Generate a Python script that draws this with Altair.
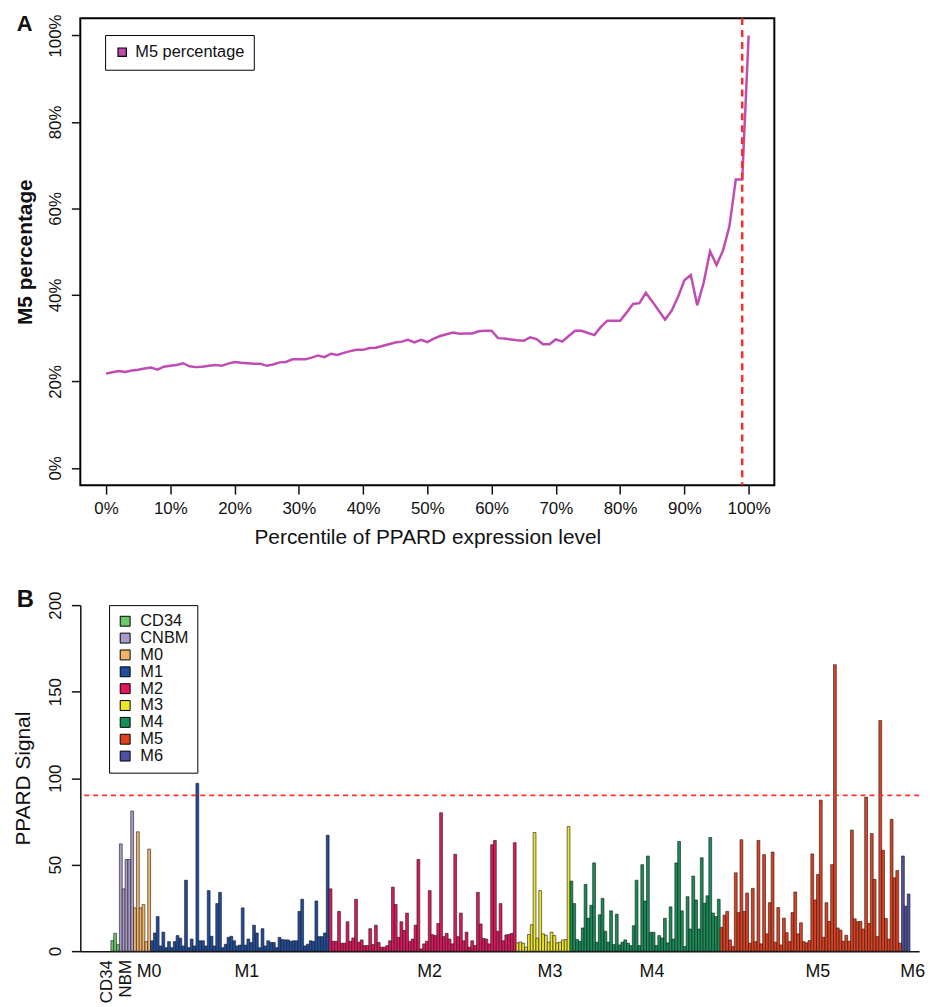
import altair as alt
import pandas as pd

FONT = "Liberation Sans"

# ---------------- Panel A data ----------------
percentiles = list(range(0, 101))
m5_percentage = [
    21.8, 22.1, 22.4, 22.2, 22.5, 22.7, 23.0, 23.2, 22.7, 23.4,
    23.6, 23.8, 24.2, 23.5, 23.3, 23.4, 23.6, 23.8, 23.6, 24.1,
    24.5, 24.3, 24.2, 24.1, 24.1, 23.6, 23.9, 24.4, 24.5, 25.1,
    25.1, 25.1, 25.5, 26.0, 25.6, 26.4, 26.1, 26.6, 27.0, 27.3,
    27.3, 27.7, 27.8, 28.2, 28.6, 29.0, 29.2, 29.6, 29.0, 29.6,
    29.1, 29.9, 30.5, 30.9, 31.3, 31.0, 31.1, 31.1, 31.6, 31.7,
    31.7, 30.0, 29.9, 29.7, 29.5, 29.4, 30.2, 29.8, 28.6, 28.6,
    29.7, 29.2, 30.5, 31.7, 31.7, 31.2, 30.7, 32.6, 34.0, 34.0,
    34.0, 35.9, 37.9, 38.1, 40.5, 38.5, 36.4, 34.3, 36.3, 39.5,
    43.4, 44.6, 37.6, 42.8, 50.1, 46.9, 50.2, 55.8, 66.7, 66.7,
    100.0,
]
cutoff_percentile = [99]
series_name = "M5 percentage"
series_color = "#C04CB2"

# ---------------- Panel B data ----------------
groups = ["CD34", "CNBM", "M0", "M1", "M2", "M3", "M4", "M5", "M6"]
group_axis_labels = ["CD34", "NBM", "M0", "M1", "M2", "M3", "M4", "M5", "M6"]
group_colors = ["#6CC66C", "#A99AC9", "#F2B468", "#1F4C9C", "#E0175E",
                "#EDE52C", "#168E58", "#E0401F", "#5050A2"]

cd34 = [6.1, 10.3, 3.8]
cnbm = [62, 36, 53, 53, 81]
m0 = [25, 69, 25, 27, 5.5, 59]
m1 = [6, 10.5, 20, 3, 11, 2, 5.5, 2, 5.5, 9,
      7.5, 3, 41, 2, 7, 3, 97, 6, 6, 3,
      35, 8.6, 3, 27.5, 34, 2, 4, 8, 8.6, 6,
      3, 3.5, 25, 3.5, 7, 5, 15, 10.5, 2, 13,
      3, 6, 5, 5, 2, 8, 6.7, 6.5, 6.5, 5.7,
      6, 6, 23, 30, 3, 4, 6, 5.7, 29, 8.4,
      8.4, 10.5, 67]
m2 = [36, 5.7, 5.7, 23, 4.6, 4.6, 17, 5.7, 7.6, 30,
      5.2, 6.5, 3.2, 3.2, 13, 3.8, 15, 5, 2.3, 2.3,
      3.2, 6, 37, 27, 8, 17, 12, 22, 5.7, 7,
      15, 53, 1.3, 4.2, 5.7, 35, 9.5, 9, 16, 80,
      8.4, 10.3, 7, 4.2, 56, 8.4, 22, 6, 11, 2.3,
      6, 3.2, 34, 15.7, 7.3, 7, 4.2, 61.5, 64, 11.5,
      27.5, 6, 9.4, 9.7, 10.3, 62.7]
m3 = [4.8, 5.3, 4.6, 2.3, 9.6, 15.3, 68.6, 7.5, 35, 10,
      9.2, 5.2, 11, 9, 4.8, 5.2, 6.5, 6.7, 72]
m4 = [40.5, 27.5, 6.7, 5.7, 13.4, 38.6, 19, 26.5, 51, 5.2,
      21, 30.5, 11.5, 5.2, 23.3, 3.8, 21.4, 3.6, 5.2, 6.5,
      4.6, 3.2, 14.7, 41, 3.2, 50, 29, 55, 10.9, 10.9,
      3.2, 9, 7.6, 19, 4.8, 25.6, 7, 51, 63.4, 23.3,
      2.7, 31.5, 12.8, 43.4, 29.6, 12.8, 54, 27.7, 32, 65.7,
      22, 20, 30]
m5 = [13.8, 20.8, 23, 6.5, 2.7, 45.3, 22.3, 64.4, 23, 33.6,
      4.6, 36.3, 5.5, 64, 4.2, 55.8, 10, 28, 57.3, 5.2,
      25.2, 3.6, 19.1, 10.7, 5.5, 22.3, 34.2, 10, 16.4, 5.5,
      4.8, 6.1, 56.2, 29.6, 44.3, 87.3, 8, 28, 17.2, 50,
      165.6, 13.4, 12.2, 5.7, 9.2, 5.7, 70, 18.7, 17, 17.2,
      12.8, 89, 16, 68, 41.5, 8.4, 133.3, 58.3, 18.9, 6.9,
      76.2, 42.4, 46.6, 4.6]
m6 = [55, 26, 33]
signal_threshold = [90]

group_values = [cd34, cnbm, m0, m1, m2, m3, m4, m5, m6]

# ---------------- build tables ----------------
dfA = pd.DataFrame({"pct": percentiles, "val": m5_percentage, "series": series_name})

rows = []
lab_rows = []
i = 0
for g, lab, vals in zip(groups, group_axis_labels, group_values):
    start = i
    for v in vals:
        rows.append({"idx": i, "val": v, "group": g})
        i += 1
    lab_rows.append({"label": lab, "center": (start + i) / 2.0})
N = i
dfB = pd.DataFrame(rows)
dfLab = pd.DataFrame(lab_rows)
dfLabCD = dfLab[dfLab["label"] == "CD34"]
dfLabNBM = dfLab[dfLab["label"] == "NBM"]
dfLabHor = dfLab[~dfLab["label"].isin(["CD34", "NBM"])]

# ---------------- Panel A ----------------
WA, HA = 700, 471
line = alt.Chart(dfA).mark_line(strokeWidth=2.5, color=series_color).encode(
    x=alt.X("pct:Q",
            scale=alt.Scale(domain=[-4, 104], nice=False, zero=False),
            axis=alt.Axis(values=list(range(0, 101, 10)),
                          labelExpr="datum.value + '%'",
                          title="Percentile of PPARD expression level",
                          titleFontSize=21, titleFontWeight="normal",
                          titlePadding=10, labelFontSize=17, labelPadding=7,
                          tickSize=9, tickWidth=1.5, domain=False, grid=False)),
    y=alt.Y("val:Q",
            scale=alt.Scale(domain=[-4, 104], nice=False, zero=False),
            axis=alt.Axis(values=[0, 20, 40, 60, 80, 100],
                          labelExpr="datum.value + '%'",
                          title="M5 percentage",
                          titleFontSize=21, titleFontWeight="bold",
                          titlePadding=11, labelFontSize=17, labelPadding=7,
                          labelAngle=270, labelAlign="center", labelBaseline="bottom",
                          tickSize=9, tickWidth=1.5, domain=False, grid=False)),
)
# legend-only layer (no rows drawn) so the key is a filled square with a black outline
legendA = alt.Chart(dfA).transform_filter("false").mark_square().encode(
    fill=alt.Fill("series:N",
                  scale=alt.Scale(domain=[series_name], range=[series_color]),
                  legend=alt.Legend(title=None, orient="none", legendX=25, legendY=17,
                                    symbolType="square", symbolSize=70,
                                    symbolStrokeColor="black", symbolStrokeWidth=1.2,
                                    symbolOpacity=1,
                                    labelFontSize=16.5, labelOffset=5,
                                    padding=9, strokeColor="black",
                                    fillColor="white")),
)
vline = alt.Chart(pd.DataFrame({"x": cutoff_percentile})).mark_rule(
    color="#FF2B2B", strokeDash=[7, 5], strokeWidth=2.5).encode(x="x:Q")
letterA = alt.Chart(pd.DataFrame({"t": ["A"]})).mark_text(
    align="left", baseline="alphabetic", fontSize=22, fontWeight="bold",
    font=FONT, color="#111").encode(x=alt.value(-64), y=alt.value(13), text="t:N")

panelA = alt.layer(line, legendA, vline, letterA).properties(
    width=WA, height=HA,
    view=alt.ViewBackground(stroke="black", strokeWidth=2))

# ---------------- Panel B ----------------
WB, HB = 846, 349
bars = alt.Chart(dfB).transform_calculate(
    x1="datum.idx + 1", y0="0"
).mark_rect(stroke="#1a1a1a", strokeWidth=0.6).encode(
    x=alt.X("idx:Q",
            scale=alt.Scale(domain=[-10.8, N + 3.2], nice=False, zero=False, padding=0),
            axis=alt.Axis(title=None, labels=False, ticks=False, domain=True,
                          grid=False, domainWidth=1.5)),
    x2="x1:Q",
    y=alt.Y("val:Q",
            scale=alt.Scale(domain=[0, 200], nice=False, padding=0),
            axis=alt.Axis(values=[0, 50, 100, 150, 200], title="PPARD Signal",
                          titleFontSize=21, titleFontWeight="normal", titlePadding=13,
                          labelFontSize=17, labelPadding=7, labelAngle=270,
                          labelAlign="center", labelBaseline="bottom",
                          tickSize=9, tickWidth=1.5, domainWidth=1.5, grid=False)),
    y2="y0:Q",
    color=alt.Color("group:N",
                    scale=alt.Scale(domain=groups, range=group_colors),
                    legend=alt.Legend(title=None, orient="none", legendX=29, legendY=0,
                                      symbolType="square", symbolSize=100,
                                      symbolStrokeColor="black", symbolStrokeWidth=1,
                                      labelFontSize=16.5, labelOffset=7, rowPadding=0,
                                      padding=8, strokeColor="black",
                                      fillColor="white")),
)
hline = alt.Chart(pd.DataFrame({"y": signal_threshold})).mark_rule(
    color="#FF3030", strokeDash=[5, 4], strokeWidth=1.7).encode(y="y:Q")

labHor = alt.Chart(dfLabHor).mark_text(
    align="center", baseline="alphabetic", fontSize=18, font=FONT, color="#111", dx=7
).encode(x="center:Q", y=alt.value(HB + 26), text="label:N")
labCD = alt.Chart(dfLabCD).mark_text(
    align="right", baseline="middle", angle=270, fontSize=17, font=FONT, color="#111",
    dy=-8
).encode(x="center:Q", y=alt.value(HB + 9), text="label:N")
labNBM = alt.Chart(dfLabNBM).mark_text(
    align="right", baseline="middle", angle=270, fontSize=17, font=FONT, color="#111"
).encode(x="center:Q", y=alt.value(HB + 9), text="label:N")
letterB = alt.Chart(pd.DataFrame({"t": ["B"]})).mark_text(
    align="left", baseline="alphabetic", fontSize=24, fontWeight="bold",
    font=FONT, color="#111").encode(x=alt.value(-64), y=alt.value(2), text="t:N")

panelB = alt.layer(bars, hline, labHor, labCD, labNBM, letterB).properties(width=WB, height=HB)

chart = alt.vconcat(panelA, panelB, spacing=39).resolve_scale(
    color="independent", fill="independent", x="independent", y="independent"
).resolve_legend(color="independent", fill="independent").properties(
    padding={"left": 12, "top": 8, "right": 4, "bottom": 0}
).configure_view(stroke="transparent").configure_axis(
    labelFont=FONT, titleFont=FONT, labelColor="#111", titleColor="#111",
    tickColor="#111", domainColor="#111"
).configure_legend(labelFont=FONT, labelColor="#111")

chart.save("out.html", embed_options={"renderer": "svg", "actions": False})
